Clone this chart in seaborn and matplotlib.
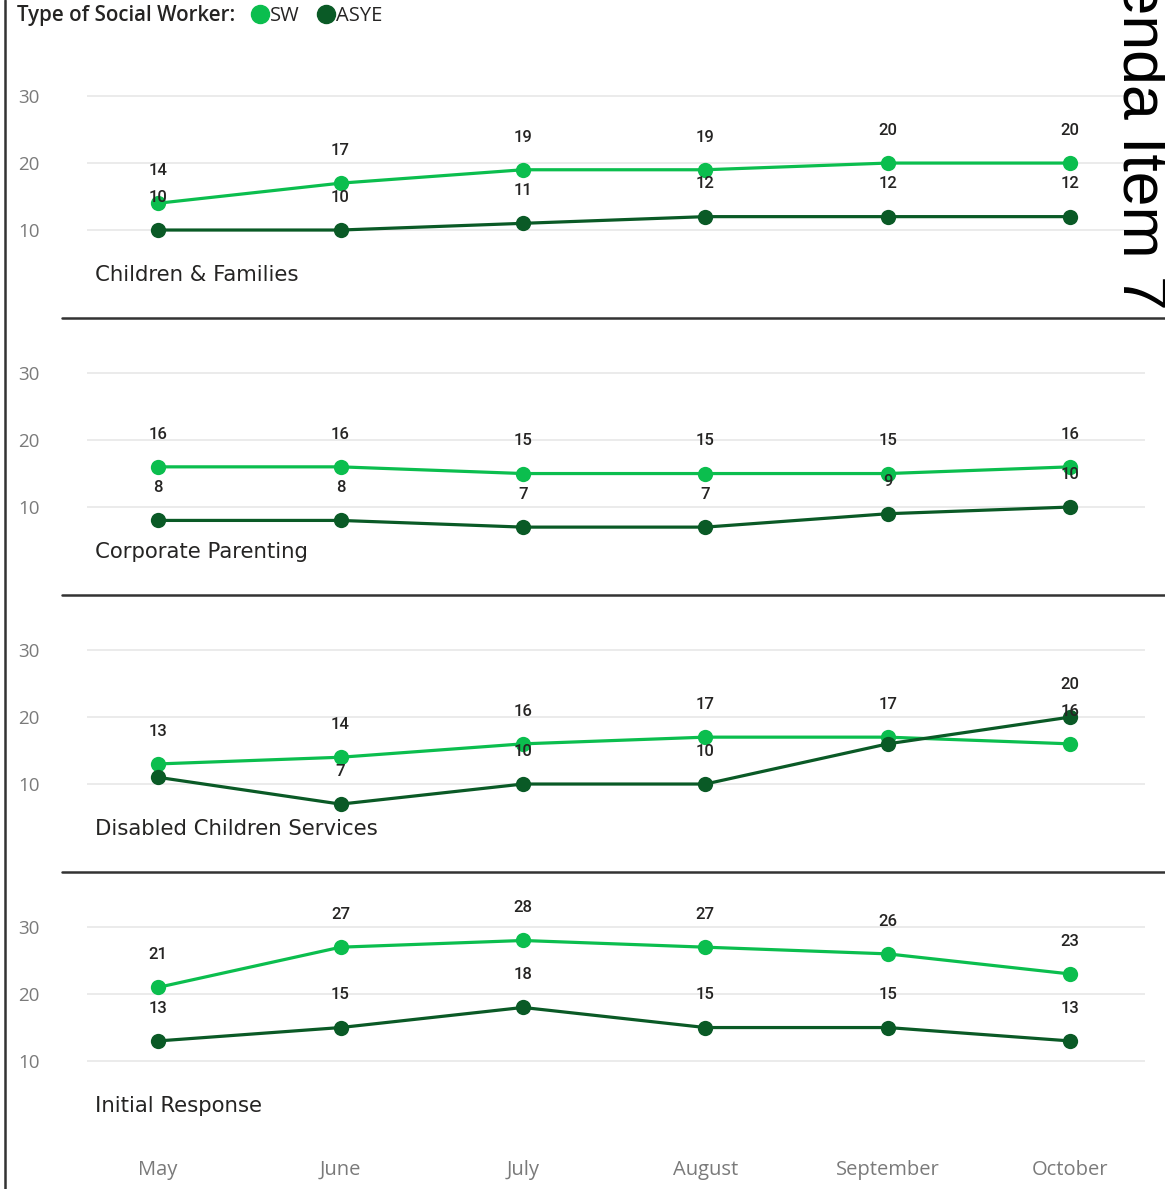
import numpy as np
import pandas as pd
import seaborn as sns
import matplotlib
matplotlib.use("Agg")
import matplotlib.pyplot as plt
from matplotlib.lines import Line2D

# ---------------- data ----------------
months = ["May", "June", "July", "August", "September", "October"]
teams = ["Children & Families", "Corporate Parenting", "Disabled Children Services", "Initial Response"]
worker_types = ["SW", "ASYE"]

cf_sw = [14, 17, 19, 19, 20, 20]
cf_asye = [10, 10, 11, 12, 12, 12]
cp_sw = [16, 16, 15, 15, 15, 16]
cp_asye = [8, 8, 7, 7, 9, 10]
dc_sw = [13, 14, 16, 17, 17, 16]
dc_asye = [11, 7, 10, 10, 16, 20]
ir_sw = [21, 27, 28, 27, 26, 23]
ir_asye = [13, 15, 18, 15, 15, 13]

y_ticks = [10, 20, 30]

series = {
    teams[0]: (cf_sw, cf_asye),
    teams[1]: (cp_sw, cp_asye),
    teams[2]: (dc_sw, dc_asye),
    teams[3]: (ir_sw, ir_asye),
}

rows = []
for team, (sw, asye) in series.items():
    for i, m in enumerate(months):
        rows.append({"team": team, "month": m, "idx": i, "type": "SW", "value": sw[i]})
        rows.append({"team": team, "month": m, "idx": i, "type": "ASYE", "value": asye[i]})
df = pd.DataFrame(rows)

# ---------------- style ----------------
sns.set_theme(style="white")
plt.rcParams["font.family"] = ["DejaVu Sans"]

palette = {"SW": "#0BBE4E", "ASYE": "#0A5A26"}
text_dark = "#252423"
axis_grey = "#7A7A7A"

W, H = 1165, 1189
fig = plt.figure(figsize=(W / 100, H / 100), dpi=100)

left_px, right_px = 87, 1145
top0, bot0, step = 76, 297, 277

axes = []
for k, team in enumerate(teams):
    top = top0 + k * step
    bot = bot0 + k * step
    ax = fig.add_axes([left_px / W, 1 - bot / H, (right_px - left_px) / W, (bot - top) / H])
    axes.append(ax)
    sub = df[df["team"] == team]
    sns.lineplot(data=sub, x="idx", y="value", hue="type", hue_order=worker_types,
                 palette=palette, marker="o", markersize=11, markeredgewidth=0,
                 linewidth=2.3, ax=ax, legend=False, errorbar=None)
    ax.set_xlim(-0.39, 5.41)
    ax.set_ylim(0, 33)
    ax.set_yticks(y_ticks)
    ax.set_yticklabels([str(t) for t in y_ticks], family="Open Sans", fontsize=13.5, color=axis_grey)
    ax.yaxis.grid(True, color="#E8E8E8", linewidth=1.2)
    ax.xaxis.grid(False)
    ax.set_axisbelow(True)
    for s in ax.spines.values():
        s.set_visible(False)
    ax.tick_params(axis="y", length=0, pad=34)
    ax.set_xlabel("")
    ax.set_ylabel("")
    ax.set_xticks(range(len(months)))
    if k == len(teams) - 1:
        ax.set_xticklabels(months, family="Open Sans", fontsize=14.5, color=axis_grey)
        ax.tick_params(axis="x", length=0, pad=23)
    else:
        ax.set_xticklabels([])
        ax.tick_params(axis="x", length=0)

    sw_vals, asye_vals = series[team]
    for i in range(len(months)):
        ax.annotate(str(sw_vals[i]), (i, sw_vals[i]), xytext=(0, 23.5), textcoords="offset points",
                    ha="center", va="center", fontsize=12, color=text_dark, family="Roboto",
                    fontweight="medium")
        if abs(sw_vals[i] - asye_vals[i]) > 2:
            ax.annotate(str(asye_vals[i]), (i, asye_vals[i]), xytext=(0, 23.5), textcoords="offset points",
                        ha="center", va="center", fontsize=12, color=text_dark, family="Roboto",
                        fontweight="medium")

    ax.text((95 - left_px) / (right_px - left_px), 0.1, team, transform=ax.transAxes,
            ha="left", va="center", fontsize=15.3, color=text_dark, family="DejaVu Sans")

# separator lines
for k in range(1, 4):
    y = 318 + (k - 1) * step
    fig.add_artist(Line2D([62 / W, 1.0], [1 - y / H, 1 - y / H], color="#333333", linewidth=1.8,
                          transform=fig.transFigure))
# left border
fig.add_artist(Line2D([5 / W, 5 / W], [0, 1], color="#333333", linewidth=1.8, transform=fig.transFigure))

# legend
fig.text(17 / W, 1 - 16 / H, "Type of Social Worker:", ha="left", va="center",
         fontsize=14.8, color=text_dark, family="Open Sans", fontweight="semibold")
handles = [Line2D([], [], marker="o", linestyle="", color=palette[t], markersize=13) for t in worker_types]
fig.legend(handles, worker_types, loc="center left", bbox_to_anchor=(251 / W, 1 - 16 / H),
           ncol=2, frameon=False, handlelength=0.9, handletextpad=0.05, columnspacing=0.85,
           borderaxespad=0, borderpad=0, prop={"family": "Open Sans", "size": 14.5}, labelcolor=text_dark)

# rotated page annotation
fig.text(1139 / W, 1 - 310 / H, "Agenda Item 7", rotation=270, ha="center", va="bottom",
         fontsize=45, color="black", family="Liberation Sans")

fig.savefig("out.png", dpi=100)
